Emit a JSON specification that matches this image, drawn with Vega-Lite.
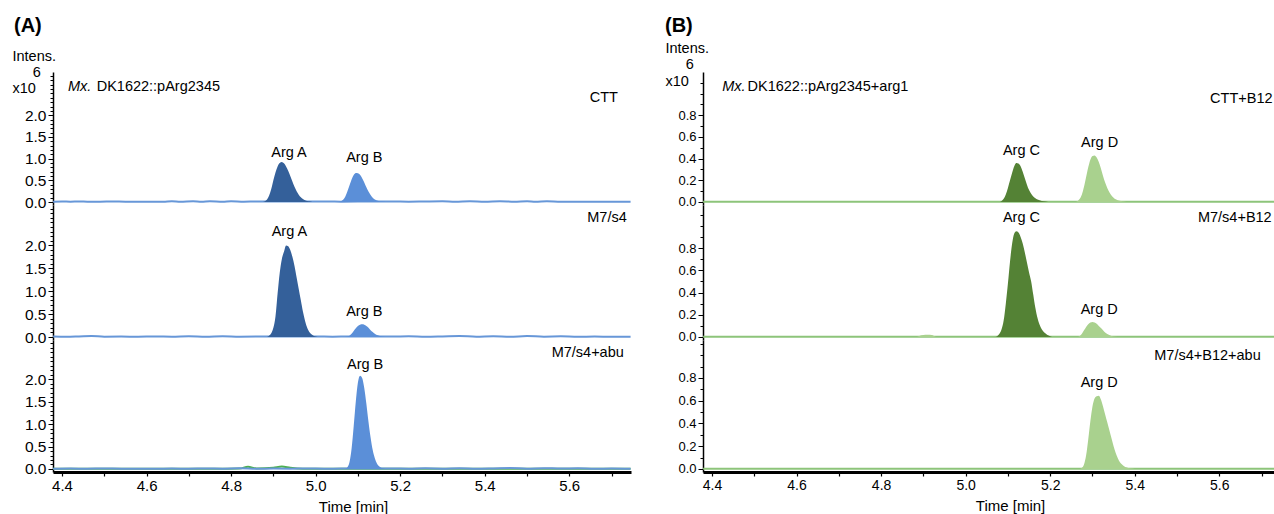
{
"$schema":"https://vega.github.io/schema/vega-lite/v6.json",
"background":"white",
"padding":{"left":12,"top":16,"right":0,"bottom":0},
"config":{"view":{"stroke":null},"font":"Liberation Sans","axis":{"grid":false,"domainColor":"black","tickColor":"black","labelColor":"black","titleColor":"black","labelFont":"Liberation Sans","titleFont":"Liberation Sans","labelOverlap":false,"labelFlush":false,"labelBound":false},"title":{"font":"Liberation Sans","color":"black"},"text":{"font":"Liberation Sans","color":"black"}},
"datasets":{
"A1":[
{"s":"base","x":4.379,"y":0.006},{"s":"base","x":4.4,"y":0.01},{"s":"base","x":4.42,"y":0.008},{"s":"base","x":4.44,"y":0.014},{"s":"base","x":4.46,"y":0.008},{"s":"base","x":4.49,"y":0.006},{"s":"base","x":4.52,"y":0.012},{"s":"base","x":4.55,"y":0.006},{"s":"base","x":4.58,"y":0.008},{"s":"base","x":4.61,"y":0.005},{"s":"base","x":4.64,"y":0.008},{"s":"base","x":4.66,"y":0.02},{"s":"base","x":4.68,"y":0.006},{"s":"base","x":4.71,"y":0.018},{"s":"base","x":4.73,"y":0.007},{"s":"base","x":4.75,"y":0.016},{"s":"base","x":4.78,"y":0.006},{"s":"base","x":4.8,"y":0.02},{"s":"base","x":4.83,"y":0.008},{"s":"base","x":4.86,"y":0.012},{"s":"base","x":4.88,"y":0.01},{"s":"base","x":4.92,"y":0.01},{"s":"base","x":4.96,"y":0.01},{"s":"base","x":5.0,"y":0.01},{"s":"base","x":5.03,"y":0.014},{"s":"base","x":5.06,"y":0.008},{"s":"base","x":5.1,"y":0.01},{"s":"base","x":5.14,"y":0.01},{"s":"base","x":5.18,"y":0.012},{"s":"base","x":5.22,"y":0.006},{"s":"base","x":5.26,"y":0.012},{"s":"base","x":5.3,"y":0.016},{"s":"base","x":5.33,"y":0.006},{"s":"base","x":5.365,"y":0.02},{"s":"base","x":5.4,"y":0.006},{"s":"base","x":5.436,"y":0.02},{"s":"base","x":5.47,"y":0.006},{"s":"base","x":5.5,"y":0.02},{"s":"base","x":5.52,"y":0.006},{"s":"base","x":5.547,"y":0.02},{"s":"base","x":5.58,"y":0.006},{"s":"base","x":5.62,"y":0.008},{"s":"base","x":5.66,"y":0.005},{"s":"base","x":5.7,"y":0.007},{"s":"base","x":5.745,"y":0.005},
{"s":"ArgA","x":4.875,"y":0},{"s":"ArgA","x":4.88,"y":0.02},{"s":"ArgA","x":4.885,"y":0.06},{"s":"ArgA","x":4.89,"y":0.15},{"s":"ArgA","x":4.895,"y":0.3},{"s":"ArgA","x":4.9,"y":0.5},{"s":"ArgA","x":4.905,"y":0.68},{"s":"ArgA","x":4.91,"y":0.82},{"s":"ArgA","x":4.915,"y":0.9},{"s":"ArgA","x":4.92,"y":0.92},{"s":"ArgA","x":4.925,"y":0.89},{"s":"ArgA","x":4.93,"y":0.82},{"s":"ArgA","x":4.935,"y":0.72},{"s":"ArgA","x":4.94,"y":0.6},{"s":"ArgA","x":4.945,"y":0.47},{"s":"ArgA","x":4.95,"y":0.35},{"s":"ArgA","x":4.955,"y":0.25},{"s":"ArgA","x":4.96,"y":0.17},{"s":"ArgA","x":4.965,"y":0.11},{"s":"ArgA","x":4.97,"y":0.07},{"s":"ArgA","x":4.975,"y":0.04},{"s":"ArgA","x":4.98,"y":0.025},{"s":"ArgA","x":4.985,"y":0.015},{"s":"ArgA","x":4.99,"y":0.008},{"s":"ArgA","x":4.995,"y":0},
{"s":"ArgB","x":5.055,"y":0},{"s":"ArgB","x":5.06,"y":0.02},{"s":"ArgB","x":5.065,"y":0.05},{"s":"ArgB","x":5.07,"y":0.12},{"s":"ArgB","x":5.075,"y":0.24},{"s":"ArgB","x":5.08,"y":0.38},{"s":"ArgB","x":5.085,"y":0.52},{"s":"ArgB","x":5.09,"y":0.62},{"s":"ArgB","x":5.095,"y":0.67},{"s":"ArgB","x":5.1,"y":0.665},{"s":"ArgB","x":5.105,"y":0.63},{"s":"ArgB","x":5.11,"y":0.55},{"s":"ArgB","x":5.115,"y":0.45},{"s":"ArgB","x":5.12,"y":0.34},{"s":"ArgB","x":5.125,"y":0.24},{"s":"ArgB","x":5.13,"y":0.16},{"s":"ArgB","x":5.135,"y":0.1},{"s":"ArgB","x":5.14,"y":0.06},{"s":"ArgB","x":5.145,"y":0.035},{"s":"ArgB","x":5.15,"y":0.02},{"s":"ArgB","x":5.155,"y":0.01},{"s":"ArgB","x":5.16,"y":0.005},{"s":"ArgB","x":5.165,"y":0}
],
"A2":[
{"s":"base","x":4.379,"y":0.01},{"s":"base","x":4.41,"y":0.006},{"s":"base","x":4.44,"y":0.012},{"s":"base","x":4.47,"y":0.02},{"s":"base","x":4.5,"y":0.008},{"s":"base","x":4.54,"y":0.01},{"s":"base","x":4.58,"y":0.006},{"s":"base","x":4.62,"y":0.012},{"s":"base","x":4.66,"y":0.006},{"s":"base","x":4.7,"y":0.014},{"s":"base","x":4.74,"y":0.006},{"s":"base","x":4.78,"y":0.016},{"s":"base","x":4.82,"y":0.008},{"s":"base","x":4.86,"y":0.01},{"s":"base","x":4.9,"y":0.01},{"s":"base","x":5.0,"y":0.01},{"s":"base","x":5.04,"y":0.008},{"s":"base","x":5.08,"y":0.01},{"s":"base","x":5.18,"y":0.01},{"s":"base","x":5.22,"y":0.014},{"s":"base","x":5.26,"y":0.006},{"s":"base","x":5.3,"y":0.012},{"s":"base","x":5.34,"y":0.02},{"s":"base","x":5.38,"y":0.008},{"s":"base","x":5.42,"y":0.016},{"s":"base","x":5.46,"y":0.006},{"s":"base","x":5.5,"y":0.02},{"s":"base","x":5.54,"y":0.008},{"s":"base","x":5.58,"y":0.014},{"s":"base","x":5.62,"y":0.006},{"s":"base","x":5.66,"y":0.01},{"s":"base","x":5.7,"y":0.006},{"s":"base","x":5.745,"y":0.008},
{"s":"ArgA","x":4.885,"y":0},{"s":"ArgA","x":4.89,"y":0.03},{"s":"ArgA","x":4.895,"y":0.08},{"s":"ArgA","x":4.9,"y":0.2},{"s":"ArgA","x":4.905,"y":0.45},{"s":"ArgA","x":4.91,"y":0.95},{"s":"ArgA","x":4.915,"y":1.4},{"s":"ArgA","x":4.92,"y":1.7},{"s":"ArgA","x":4.925,"y":1.86},{"s":"ArgA","x":4.93,"y":2.0},{"s":"ArgA","x":4.935,"y":1.98},{"s":"ArgA","x":4.94,"y":1.9},{"s":"ArgA","x":4.945,"y":1.75},{"s":"ArgA","x":4.95,"y":1.55},{"s":"ArgA","x":4.955,"y":1.3},{"s":"ArgA","x":4.96,"y":1.05},{"s":"ArgA","x":4.965,"y":0.8},{"s":"ArgA","x":4.97,"y":0.55},{"s":"ArgA","x":4.975,"y":0.35},{"s":"ArgA","x":4.98,"y":0.2},{"s":"ArgA","x":4.985,"y":0.11},{"s":"ArgA","x":4.99,"y":0.06},{"s":"ArgA","x":4.995,"y":0.03},{"s":"ArgA","x":5.0,"y":0.012},{"s":"ArgA","x":5.005,"y":0},
{"s":"ArgB","x":5.07,"y":0},{"s":"ArgB","x":5.075,"y":0.01},{"s":"ArgB","x":5.08,"y":0.03},{"s":"ArgB","x":5.085,"y":0.07},{"s":"ArgB","x":5.09,"y":0.13},{"s":"ArgB","x":5.095,"y":0.19},{"s":"ArgB","x":5.1,"y":0.24},{"s":"ArgB","x":5.105,"y":0.27},{"s":"ArgB","x":5.11,"y":0.28},{"s":"ArgB","x":5.115,"y":0.27},{"s":"ArgB","x":5.12,"y":0.24},{"s":"ArgB","x":5.125,"y":0.2},{"s":"ArgB","x":5.13,"y":0.15},{"s":"ArgB","x":5.135,"y":0.11},{"s":"ArgB","x":5.14,"y":0.07},{"s":"ArgB","x":5.145,"y":0.045},{"s":"ArgB","x":5.15,"y":0.03},{"s":"ArgB","x":5.155,"y":0.015},{"s":"ArgB","x":5.16,"y":0.008},{"s":"ArgB","x":5.17,"y":0}
],
"A3":[
{"s":"noiseG","x":4.379,"y":0.004},{"s":"noiseG","x":4.45,"y":0.006},{"s":"noiseG","x":4.52,"y":0.004},{"s":"noiseG","x":4.6,"y":0.006},{"s":"noiseG","x":4.7,"y":0.004},{"s":"noiseG","x":4.78,"y":0.006},{"s":"noiseG","x":4.82,"y":0.01},{"s":"noiseG","x":4.84,"y":0.05},{"s":"noiseG","x":4.86,"y":0.012},{"s":"noiseG","x":4.9,"y":0.03},{"s":"noiseG","x":4.92,"y":0.055},{"s":"noiseG","x":4.94,"y":0.03},{"s":"noiseG","x":4.97,"y":0.008},{"s":"noiseG","x":5.0,"y":0.004},{"s":"noiseG","x":5.05,"y":0.006},{"s":"noiseG","x":5.2,"y":0.004},{"s":"noiseG","x":5.4,"y":0.004},{"s":"noiseG","x":5.745,"y":0.004},
{"s":"base","x":4.379,"y":0.005},{"s":"base","x":4.42,"y":0.01},{"s":"base","x":4.46,"y":0.006},{"s":"base","x":4.5,"y":0.012},{"s":"base","x":4.54,"y":0.005},{"s":"base","x":4.58,"y":0.008},{"s":"base","x":4.62,"y":0.006},{"s":"base","x":4.66,"y":0.01},{"s":"base","x":4.7,"y":0.006},{"s":"base","x":4.74,"y":0.012},{"s":"base","x":4.78,"y":0.008},{"s":"base","x":4.82,"y":0.014},{"s":"base","x":4.86,"y":0.006},{"s":"base","x":4.9,"y":0.01},{"s":"base","x":4.94,"y":0.008},{"s":"base","x":4.98,"y":0.012},{"s":"base","x":5.02,"y":0.006},{"s":"base","x":5.06,"y":0.01},{"s":"base","x":5.18,"y":0.012},{"s":"base","x":5.22,"y":0.006},{"s":"base","x":5.26,"y":0.014},{"s":"base","x":5.3,"y":0.008},{"s":"base","x":5.34,"y":0.016},{"s":"base","x":5.38,"y":0.006},{"s":"base","x":5.42,"y":0.012},{"s":"base","x":5.46,"y":0.02},{"s":"base","x":5.5,"y":0.008},{"s":"base","x":5.54,"y":0.018},{"s":"base","x":5.58,"y":0.01},{"s":"base","x":5.62,"y":0.016},{"s":"base","x":5.66,"y":0.006},{"s":"base","x":5.7,"y":0.01},{"s":"base","x":5.745,"y":0.005},
{"s":"ArgB","x":5.07,"y":0},{"s":"ArgB","x":5.075,"y":0.04},{"s":"ArgB","x":5.08,"y":0.15},{"s":"ArgB","x":5.085,"y":0.45},{"s":"ArgB","x":5.09,"y":0.95},{"s":"ArgB","x":5.095,"y":1.5},{"s":"ArgB","x":5.1,"y":1.92},{"s":"ArgB","x":5.105,"y":2.07},{"s":"ArgB","x":5.11,"y":2.02},{"s":"ArgB","x":5.115,"y":1.8},{"s":"ArgB","x":5.12,"y":1.45},{"s":"ArgB","x":5.125,"y":1.05},{"s":"ArgB","x":5.13,"y":0.7},{"s":"ArgB","x":5.135,"y":0.42},{"s":"ArgB","x":5.14,"y":0.24},{"s":"ArgB","x":5.145,"y":0.12},{"s":"ArgB","x":5.15,"y":0.06},{"s":"ArgB","x":5.155,"y":0.03},{"s":"ArgB","x":5.16,"y":0.01},{"s":"ArgB","x":5.165,"y":0}
],
"B1":[
{"s":"baseG","x":4.379,"y":0.003},{"s":"baseG","x":5.745,"y":0.003},
{"s":"ArgC","x":5.08,"y":0},{"s":"ArgC","x":5.085,"y":0.01},{"s":"ArgC","x":5.09,"y":0.03},{"s":"ArgC","x":5.095,"y":0.07},{"s":"ArgC","x":5.1,"y":0.13},{"s":"ArgC","x":5.105,"y":0.2},{"s":"ArgC","x":5.11,"y":0.27},{"s":"ArgC","x":5.115,"y":0.33},{"s":"ArgC","x":5.12,"y":0.36},{"s":"ArgC","x":5.125,"y":0.355},{"s":"ArgC","x":5.13,"y":0.33},{"s":"ArgC","x":5.135,"y":0.28},{"s":"ArgC","x":5.14,"y":0.22},{"s":"ArgC","x":5.145,"y":0.16},{"s":"ArgC","x":5.15,"y":0.11},{"s":"ArgC","x":5.155,"y":0.075},{"s":"ArgC","x":5.16,"y":0.05},{"s":"ArgC","x":5.165,"y":0.035},{"s":"ArgC","x":5.17,"y":0.022},{"s":"ArgC","x":5.18,"y":0.01},{"s":"ArgC","x":5.19,"y":0.004},{"s":"ArgC","x":5.195,"y":0},
{"s":"ArgD","x":5.26,"y":0},{"s":"ArgD","x":5.265,"y":0.01},{"s":"ArgD","x":5.27,"y":0.03},{"s":"ArgD","x":5.275,"y":0.07},{"s":"ArgD","x":5.28,"y":0.14},{"s":"ArgD","x":5.285,"y":0.23},{"s":"ArgD","x":5.29,"y":0.32},{"s":"ArgD","x":5.295,"y":0.39},{"s":"ArgD","x":5.3,"y":0.425},{"s":"ArgD","x":5.305,"y":0.43},{"s":"ArgD","x":5.31,"y":0.41},{"s":"ArgD","x":5.315,"y":0.37},{"s":"ArgD","x":5.32,"y":0.31},{"s":"ArgD","x":5.325,"y":0.24},{"s":"ArgD","x":5.33,"y":0.18},{"s":"ArgD","x":5.335,"y":0.13},{"s":"ArgD","x":5.34,"y":0.09},{"s":"ArgD","x":5.345,"y":0.06},{"s":"ArgD","x":5.35,"y":0.04},{"s":"ArgD","x":5.355,"y":0.025},{"s":"ArgD","x":5.36,"y":0.015},{"s":"ArgD","x":5.37,"y":0.006},{"s":"ArgD","x":5.38,"y":0}
],
"B2":[
{"s":"baseG","x":4.379,"y":0.003},{"s":"baseG","x":5.745,"y":0.003},
{"s":"bump","x":4.885,"y":0},{"s":"bump","x":4.89,"y":0.01},{"s":"bump","x":4.9,"y":0.018},{"s":"bump","x":4.91,"y":0.02},{"s":"bump","x":4.92,"y":0.018},{"s":"bump","x":4.925,"y":0.01},{"s":"bump","x":4.93,"y":0},
{"s":"ArgC","x":5.07,"y":0},{"s":"ArgC","x":5.075,"y":0.01},{"s":"ArgC","x":5.08,"y":0.03},{"s":"ArgC","x":5.085,"y":0.07},{"s":"ArgC","x":5.09,"y":0.15},{"s":"ArgC","x":5.095,"y":0.3},{"s":"ArgC","x":5.1,"y":0.48},{"s":"ArgC","x":5.105,"y":0.68},{"s":"ArgC","x":5.11,"y":0.84},{"s":"ArgC","x":5.115,"y":0.93},{"s":"ArgC","x":5.12,"y":0.95},{"s":"ArgC","x":5.125,"y":0.94},{"s":"ArgC","x":5.13,"y":0.9},{"s":"ArgC","x":5.135,"y":0.84},{"s":"ArgC","x":5.14,"y":0.76},{"s":"ArgC","x":5.145,"y":0.67},{"s":"ArgC","x":5.15,"y":0.58},{"s":"ArgC","x":5.155,"y":0.5},{"s":"ArgC","x":5.16,"y":0.38},{"s":"ArgC","x":5.165,"y":0.26},{"s":"ArgC","x":5.17,"y":0.17},{"s":"ArgC","x":5.175,"y":0.11},{"s":"ArgC","x":5.18,"y":0.07},{"s":"ArgC","x":5.185,"y":0.045},{"s":"ArgC","x":5.19,"y":0.03},{"s":"ArgC","x":5.195,"y":0.015},{"s":"ArgC","x":5.2,"y":0.007},{"s":"ArgC","x":5.205,"y":0},
{"s":"ArgD","x":5.265,"y":0},{"s":"ArgD","x":5.27,"y":0.01},{"s":"ArgD","x":5.275,"y":0.03},{"s":"ArgD","x":5.28,"y":0.06},{"s":"ArgD","x":5.285,"y":0.09},{"s":"ArgD","x":5.29,"y":0.115},{"s":"ArgD","x":5.295,"y":0.13},{"s":"ArgD","x":5.3,"y":0.135},{"s":"ArgD","x":5.305,"y":0.13},{"s":"ArgD","x":5.31,"y":0.12},{"s":"ArgD","x":5.315,"y":0.1},{"s":"ArgD","x":5.32,"y":0.08},{"s":"ArgD","x":5.325,"y":0.06},{"s":"ArgD","x":5.33,"y":0.04},{"s":"ArgD","x":5.335,"y":0.027},{"s":"ArgD","x":5.34,"y":0.017},{"s":"ArgD","x":5.345,"y":0.01},{"s":"ArgD","x":5.35,"y":0.005},{"s":"ArgD","x":5.36,"y":0}
],
"B3":[
{"s":"baseG","x":4.379,"y":0.003},{"s":"baseG","x":5.745,"y":0.003},
{"s":"ArgD","x":5.27,"y":0},{"s":"ArgD","x":5.275,"y":0.01},{"s":"ArgD","x":5.28,"y":0.04},{"s":"ArgD","x":5.285,"y":0.12},{"s":"ArgD","x":5.29,"y":0.26},{"s":"ArgD","x":5.295,"y":0.42},{"s":"ArgD","x":5.3,"y":0.55},{"s":"ArgD","x":5.305,"y":0.62},{"s":"ArgD","x":5.31,"y":0.64},{"s":"ArgD","x":5.315,"y":0.645},{"s":"ArgD","x":5.32,"y":0.61},{"s":"ArgD","x":5.325,"y":0.55},{"s":"ArgD","x":5.33,"y":0.48},{"s":"ArgD","x":5.335,"y":0.41},{"s":"ArgD","x":5.34,"y":0.34},{"s":"ArgD","x":5.345,"y":0.27},{"s":"ArgD","x":5.35,"y":0.2},{"s":"ArgD","x":5.355,"y":0.14},{"s":"ArgD","x":5.36,"y":0.095},{"s":"ArgD","x":5.365,"y":0.06},{"s":"ArgD","x":5.37,"y":0.04},{"s":"ArgD","x":5.375,"y":0.025},{"s":"ArgD","x":5.38,"y":0.015},{"s":"ArgD","x":5.39,"y":0.006},{"s":"ArgD","x":5.4,"y":0}
],
"L":[
{"p":"A1","k":"i","x":4.414,"y":2.65,"t":"Mx."},
{"p":"A1","k":"l","x":4.482,"y":2.65,"t":"DK1622::pArg2345"},
{"p":"A1","k":"r","x":5.715,"y":2.4,"t":"CTT"},
{"p":"A1","k":"c","x":4.937,"y":1.13,"t":"Arg A"},
{"p":"A1","k":"c","x":5.115,"y":1.01,"t":"Arg B"},
{"p":"A2","k":"r","x":5.736,"y":2.6,"t":"M7/s4"},
{"p":"A2","k":"c","x":4.938,"y":2.29,"t":"Arg A"},
{"p":"A2","k":"c","x":5.115,"y":0.55,"t":"Arg B"},
{"p":"A3","k":"r","x":5.729,"y":2.58,"t":"M7/s4+abu"},
{"p":"A3","k":"c","x":5.117,"y":2.31,"t":"Arg B"},
{"p":"B1","k":"i","x":4.424,"y":1.06,"t":"Mx."},
{"p":"B1","k":"l","x":4.484,"y":1.06,"t":"DK1622::pArg2345+arg1"},
{"p":"B1","k":"r","x":5.726,"y":0.95,"t":"CTT+B12"},
{"p":"B1","k":"c","x":5.132,"y":0.475,"t":"Arg C"},
{"p":"B1","k":"c","x":5.317,"y":0.545,"t":"Arg D"},
{"p":"B2","k":"r","x":5.724,"y":1.07,"t":"M7/s4+B12"},
{"p":"B2","k":"c","x":5.132,"y":1.07,"t":"Arg C"},
{"p":"B2","k":"c","x":5.316,"y":0.24,"t":"Arg D"},
{"p":"B3","k":"r","x":5.698,"y":0.99,"t":"M7/s4+B12+abu"},
{"p":"B3","k":"c","x":5.316,"y":0.76,"t":"Arg D"}
]
},
"spacing":30,
"hconcat":[
{
"title":{"text":"(A)","anchor":"start","fontSize":20,"fontWeight":"bold","offset":12,"dx":2},
"spacing":0,
"bounds":"flush",
"vconcat":[
{"width":578,"height":133,
"encoding":{
"x":{"field":"x","type":"quantitative","scale":{"domain":[4.3787,5.746],"nice":false,"zero":false},"axis":null},
"y":{"field":"y","type":"quantitative","scale":{"domain":[-0.069,2.995],"nice":false,"zero":false},"axis":{"values":[0,0.1,0.2,0.3,0.4,0.5,0.6,0.7,0.8,0.9,1,1.1,1.2,1.3,1.4,1.5,1.6,1.7,1.8,1.9,2,2.1,2.2,2.3,2.4,2.5,2.6,2.7,2.8,2.9],"labelExpr":"datum.value <= 2.01 && abs(datum.value*2-round(datum.value*2))<0.01 ? format(datum.value,'.1f') : ''","tickSize":{"condition":{"test":"datum.value <= 2.01 && abs(datum.value*2-round(datum.value*2))<0.01","value":5},"value":3},"labelFontSize":15.5,"labelPadding":2,"domainWidth":1.5,"tickWidth":1,"title":["Intens.","\u200b\u00a0\u00a0\u00a0\u00a0\u00a06","x10"],"titleAngle":0,"titleAlign":"left","titleBaseline":"top","titleX":-41,"titleY":-23,"titleFontSize":14.5,"titleFontWeight":"normal","titleLineHeight":16}}
},
"layer":[
{"data":{"name":"A1"},"transform":[{"filter":"datum.s=='base'||datum.s=='baseG'||datum.s=='noiseG'"}],"mark":{"type":"line","strokeWidth":2,"interpolate":"monotone"},"encoding":{"color":{"field":"s","type":"nominal","scale":{"domain":["base","ArgA","ArgB","noiseG","baseG","ArgC","ArgD","bump"],"range":["#6797d8","#34609a","#5b8fd8","#4caf50","#8dc47a","#548235","#a9d18e","#a9d18e"]},"legend":null}}},
{"data":{"name":"A1"},"transform":[{"filter":"!(datum.s=='base'||datum.s=='baseG'||datum.s=='noiseG')"}],"mark":{"type":"area","interpolate":"monotone"},"encoding":{"y2":{"datum":0},"color":{"field":"s","type":"nominal","scale":{"domain":["base","ArgA","ArgB","noiseG","baseG","ArgC","ArgD","bump"],"range":["#6797d8","#34609a","#5b8fd8","#4caf50","#8dc47a","#548235","#a9d18e","#a9d18e"]},"legend":null}}},
{"data":{"name":"L"},"transform":[{"filter":"datum.p=='A1' && datum.k=='c'"}],"mark":{"type":"text","align":"center","baseline":"middle","fontSize":14.5},"encoding":{"text":{"field":"t"}}},
{"data":{"name":"L"},"transform":[{"filter":"datum.p=='A1' && datum.k=='r'"}],"mark":{"type":"text","align":"right","baseline":"middle","fontSize":14.5},"encoding":{"text":{"field":"t"}}},
{"data":{"name":"L"},"transform":[{"filter":"datum.p=='A1' && datum.k=='l'"}],"mark":{"type":"text","align":"left","baseline":"middle","fontSize":14.5},"encoding":{"text":{"field":"t"}}},
{"data":{"name":"L"},"transform":[{"filter":"datum.p=='A1' && datum.k=='i'"}],"mark":{"type":"text","align":"left","baseline":"middle","fontSize":14.5,"fontStyle":"italic"},"encoding":{"text":{"field":"t"}}}
]},
{"width":578,"height":135,
"encoding":{
"x":{"field":"x","type":"quantitative","scale":{"domain":[4.3787,5.746],"nice":false,"zero":false},"axis":null},
"y":{"field":"y","type":"quantitative","scale":{"domain":[-0.0655,2.882],"nice":false,"zero":false},"axis":{"values":[0,0.1,0.2,0.3,0.4,0.5,0.6,0.7,0.8,0.9,1,1.1,1.2,1.3,1.4,1.5,1.6,1.7,1.8,1.9,2,2.1,2.2,2.3,2.4,2.5,2.6,2.7,2.8],"labelExpr":"datum.value <= 2.01 && abs(datum.value*2-round(datum.value*2))<0.01 ? format(datum.value,'.1f') : ''","tickSize":{"condition":{"test":"datum.value <= 2.01 && abs(datum.value*2-round(datum.value*2))<0.01","value":5},"value":3},"labelFontSize":15.5,"labelPadding":2,"domainWidth":1.5,"tickWidth":1,"title":null}}
},
"layer":[
{"data":{"name":"A2"},"transform":[{"filter":"datum.s=='base'||datum.s=='baseG'||datum.s=='noiseG'"}],"mark":{"type":"line","strokeWidth":2,"interpolate":"monotone"},"encoding":{"color":{"field":"s","type":"nominal","scale":{"domain":["base","ArgA","ArgB","noiseG","baseG","ArgC","ArgD","bump"],"range":["#6797d8","#34609a","#5b8fd8","#4caf50","#8dc47a","#548235","#a9d18e","#a9d18e"]},"legend":null}}},
{"data":{"name":"A2"},"transform":[{"filter":"!(datum.s=='base'||datum.s=='baseG'||datum.s=='noiseG')"}],"mark":{"type":"area","interpolate":"monotone"},"encoding":{"y2":{"datum":0},"color":{"field":"s","type":"nominal","scale":{"domain":["base","ArgA","ArgB","noiseG","baseG","ArgC","ArgD","bump"],"range":["#6797d8","#34609a","#5b8fd8","#4caf50","#8dc47a","#548235","#a9d18e","#a9d18e"]},"legend":null}}},
{"data":{"name":"L"},"transform":[{"filter":"datum.p=='A2' && datum.k=='c'"}],"mark":{"type":"text","align":"center","baseline":"middle","fontSize":14.5},"encoding":{"text":{"field":"t"}}},
{"data":{"name":"L"},"transform":[{"filter":"datum.p=='A2' && datum.k=='r'"}],"mark":{"type":"text","align":"right","baseline":"middle","fontSize":14.5},"encoding":{"text":{"field":"t"}}}
]},
{"width":578,"height":132,
"encoding":{
"x":{"field":"x","type":"quantitative","scale":{"domain":[4.3787,5.746],"nice":false,"zero":false},"axis":{"values":[4.4,4.5,4.6,4.7,4.8,4.9,5,5.1,5.2,5.3,5.4,5.5,5.6,5.7],"labelExpr":"round(datum.value*10)%2==0 ? format(datum.value,'.1f') : ''","tickSize":4,"tickWidth":1.2,"domainWidth":3,"labelFontSize":15,"labelPadding":2,"title":"Time [min]","titleFontSize":15,"titleFontWeight":"normal","titleX":300,"titleAlign":"center","titlePadding":6}},
"y":{"field":"y","type":"quantitative","scale":{"domain":[-0.0667,2.867],"nice":false,"zero":false},"axis":{"values":[0,0.1,0.2,0.3,0.4,0.5,0.6,0.7,0.8,0.9,1,1.1,1.2,1.3,1.4,1.5,1.6,1.7,1.8,1.9,2,2.1,2.2,2.3,2.4,2.5,2.6,2.7,2.8],"labelExpr":"datum.value <= 2.01 && abs(datum.value*2-round(datum.value*2))<0.01 ? format(datum.value,'.1f') : ''","tickSize":{"condition":{"test":"datum.value <= 2.01 && abs(datum.value*2-round(datum.value*2))<0.01","value":5},"value":3},"labelFontSize":15.5,"labelPadding":2,"domainWidth":1.5,"tickWidth":1,"title":null}}
},
"layer":[
{"data":{"name":"A3"},"transform":[{"filter":"datum.s=='base'||datum.s=='baseG'||datum.s=='noiseG'"}],"mark":{"type":"line","strokeWidth":2,"interpolate":"monotone"},"encoding":{"color":{"field":"s","type":"nominal","scale":{"domain":["base","ArgA","ArgB","noiseG","baseG","ArgC","ArgD","bump"],"range":["#6797d8","#34609a","#5b8fd8","#4caf50","#8dc47a","#548235","#a9d18e","#a9d18e"]},"legend":null}}},
{"data":{"name":"A3"},"transform":[{"filter":"!(datum.s=='base'||datum.s=='baseG'||datum.s=='noiseG')"}],"mark":{"type":"area","interpolate":"monotone"},"encoding":{"y2":{"datum":0},"color":{"field":"s","type":"nominal","scale":{"domain":["base","ArgA","ArgB","noiseG","baseG","ArgC","ArgD","bump"],"range":["#6797d8","#34609a","#5b8fd8","#4caf50","#8dc47a","#548235","#a9d18e","#a9d18e"]},"legend":null}}},
{"data":{"name":"L"},"transform":[{"filter":"datum.p=='A3' && datum.k=='c'"}],"mark":{"type":"text","align":"center","baseline":"middle","fontSize":14.5},"encoding":{"text":{"field":"t"}}},
{"data":{"name":"L"},"transform":[{"filter":"datum.p=='A3' && datum.k=='r'"}],"mark":{"type":"text","align":"right","baseline":"middle","fontSize":14.5},"encoding":{"text":{"field":"t"}}}
]}
]
},
{
"title":{"text":"(B)","anchor":"start","fontSize":20,"fontWeight":"bold","offset":4,"dx":0},
"spacing":0,
"bounds":"flush",
"vconcat":[
{"width":578,"height":133,
"encoding":{
"x":{"field":"x","type":"quantitative","scale":{"domain":[4.3787,5.746],"nice":false,"zero":false},"axis":null},
"y":{"field":"y","type":"quantitative","scale":{"domain":[-0.0277,1.2],"nice":false,"zero":false},"axis":{"values":[0,0.1,0.2,0.3,0.4,0.5,0.6,0.7,0.8,0.9,1,1.1],"labelExpr":"datum.value <= 0.81 && abs(datum.value*5-round(datum.value*5))<0.01 ? format(datum.value,'.1f') : ''","tickSize":{"condition":{"test":"datum.value <= 0.81 && abs(datum.value*5-round(datum.value*5))<0.01","value":5},"value":3},"labelFontSize":13,"labelPadding":2,"domainWidth":1.5,"tickWidth":1,"title":["Intens.","\u200b\u00a0\u00a0\u00a0\u00a0\u00a06","x10"],"titleAngle":0,"titleAlign":"left","titleBaseline":"top","titleX":-38,"titleY":-31,"titleFontSize":14.5,"titleFontWeight":"normal","titleLineHeight":16.5}}
},
"layer":[
{"data":{"name":"B1"},"transform":[{"filter":"datum.s=='base'||datum.s=='baseG'||datum.s=='noiseG'"}],"mark":{"type":"line","strokeWidth":2,"interpolate":"monotone"},"encoding":{"color":{"field":"s","type":"nominal","scale":{"domain":["base","ArgA","ArgB","noiseG","baseG","ArgC","ArgD","bump"],"range":["#6797d8","#34609a","#5b8fd8","#4caf50","#8dc47a","#548235","#a9d18e","#a9d18e"]},"legend":null}}},
{"data":{"name":"B1"},"transform":[{"filter":"!(datum.s=='base'||datum.s=='baseG'||datum.s=='noiseG')"}],"mark":{"type":"area","interpolate":"monotone"},"encoding":{"y2":{"datum":0},"color":{"field":"s","type":"nominal","scale":{"domain":["base","ArgA","ArgB","noiseG","baseG","ArgC","ArgD","bump"],"range":["#6797d8","#34609a","#5b8fd8","#4caf50","#8dc47a","#548235","#a9d18e","#a9d18e"]},"legend":null}}},
{"data":{"name":"L"},"transform":[{"filter":"datum.p=='B1' && datum.k=='c'"}],"mark":{"type":"text","align":"center","baseline":"middle","fontSize":14.5},"encoding":{"text":{"field":"t"}}},
{"data":{"name":"L"},"transform":[{"filter":"datum.p=='B1' && datum.k=='r'"}],"mark":{"type":"text","align":"right","baseline":"middle","fontSize":14.5},"encoding":{"text":{"field":"t"}}},
{"data":{"name":"L"},"transform":[{"filter":"datum.p=='B1' && datum.k=='l'"}],"mark":{"type":"text","align":"left","baseline":"middle","fontSize":14.5},"encoding":{"text":{"field":"t"}}},
{"data":{"name":"L"},"transform":[{"filter":"datum.p=='B1' && datum.k=='i'"}],"mark":{"type":"text","align":"left","baseline":"middle","fontSize":14.5,"fontStyle":"italic"},"encoding":{"text":{"field":"t"}}}
]},
{"width":578,"height":135,
"encoding":{
"x":{"field":"x","type":"quantitative","scale":{"domain":[4.3787,5.746],"nice":false,"zero":false},"axis":null},
"y":{"field":"y","type":"quantitative","scale":{"domain":[-0.027,1.187],"nice":false,"zero":false},"axis":{"values":[0,0.1,0.2,0.3,0.4,0.5,0.6,0.7,0.8,0.9,1,1.1],"labelExpr":"datum.value <= 0.81 && abs(datum.value*5-round(datum.value*5))<0.01 ? format(datum.value,'.1f') : ''","tickSize":{"condition":{"test":"datum.value <= 0.81 && abs(datum.value*5-round(datum.value*5))<0.01","value":5},"value":3},"labelFontSize":13,"labelPadding":2,"domainWidth":1.5,"tickWidth":1,"title":null}}
},
"layer":[
{"data":{"name":"B2"},"transform":[{"filter":"datum.s=='base'||datum.s=='baseG'||datum.s=='noiseG'"}],"mark":{"type":"line","strokeWidth":2,"interpolate":"monotone"},"encoding":{"color":{"field":"s","type":"nominal","scale":{"domain":["base","ArgA","ArgB","noiseG","baseG","ArgC","ArgD","bump"],"range":["#6797d8","#34609a","#5b8fd8","#4caf50","#8dc47a","#548235","#a9d18e","#a9d18e"]},"legend":null}}},
{"data":{"name":"B2"},"transform":[{"filter":"!(datum.s=='base'||datum.s=='baseG'||datum.s=='noiseG')"}],"mark":{"type":"area","interpolate":"monotone"},"encoding":{"y2":{"datum":0},"color":{"field":"s","type":"nominal","scale":{"domain":["base","ArgA","ArgB","noiseG","baseG","ArgC","ArgD","bump"],"range":["#6797d8","#34609a","#5b8fd8","#4caf50","#8dc47a","#548235","#a9d18e","#a9d18e"]},"legend":null}}},
{"data":{"name":"L"},"transform":[{"filter":"datum.p=='B2' && datum.k=='c'"}],"mark":{"type":"text","align":"center","baseline":"middle","fontSize":14.5},"encoding":{"text":{"field":"t"}}},
{"data":{"name":"L"},"transform":[{"filter":"datum.p=='B2' && datum.k=='r'"}],"mark":{"type":"text","align":"right","baseline":"middle","fontSize":14.5},"encoding":{"text":{"field":"t"}}}
]},
{"width":578,"height":132,
"encoding":{
"x":{"field":"x","type":"quantitative","scale":{"domain":[4.3787,5.746],"nice":false,"zero":false},"axis":{"values":[4.4,4.5,4.6,4.7,4.8,4.9,5,5.1,5.2,5.3,5.4,5.5,5.6,5.7],"labelExpr":"round(datum.value*10)%2==0 ? format(datum.value,'.1f') : ''","tickSize":4,"tickWidth":1.2,"domainWidth":3,"labelFontSize":14,"labelPadding":2,"title":"Time [min]","titleFontSize":15,"titleFontWeight":"normal","titleX":307,"titleAlign":"center","titlePadding":6}},
"y":{"field":"y","type":"quantitative","scale":{"domain":[-0.0264,1.134],"nice":false,"zero":false},"axis":{"values":[0,0.1,0.2,0.3,0.4,0.5,0.6,0.7,0.8,0.9,1,1.1],"labelExpr":"datum.value <= 0.81 && abs(datum.value*5-round(datum.value*5))<0.01 ? format(datum.value,'.1f') : ''","tickSize":{"condition":{"test":"datum.value <= 0.81 && abs(datum.value*5-round(datum.value*5))<0.01","value":5},"value":3},"labelFontSize":13,"labelPadding":2,"domainWidth":1.5,"tickWidth":1,"title":null}}
},
"layer":[
{"data":{"name":"B3"},"transform":[{"filter":"datum.s=='base'||datum.s=='baseG'||datum.s=='noiseG'"}],"mark":{"type":"line","strokeWidth":2,"interpolate":"monotone"},"encoding":{"color":{"field":"s","type":"nominal","scale":{"domain":["base","ArgA","ArgB","noiseG","baseG","ArgC","ArgD","bump"],"range":["#6797d8","#34609a","#5b8fd8","#4caf50","#8dc47a","#548235","#a9d18e","#a9d18e"]},"legend":null}}},
{"data":{"name":"B3"},"transform":[{"filter":"!(datum.s=='base'||datum.s=='baseG'||datum.s=='noiseG')"}],"mark":{"type":"area","interpolate":"monotone"},"encoding":{"y2":{"datum":0},"color":{"field":"s","type":"nominal","scale":{"domain":["base","ArgA","ArgB","noiseG","baseG","ArgC","ArgD","bump"],"range":["#6797d8","#34609a","#5b8fd8","#4caf50","#8dc47a","#548235","#a9d18e","#a9d18e"]},"legend":null}}},
{"data":{"name":"L"},"transform":[{"filter":"datum.p=='B3' && datum.k=='c'"}],"mark":{"type":"text","align":"center","baseline":"middle","fontSize":14.5},"encoding":{"text":{"field":"t"}}},
{"data":{"name":"L"},"transform":[{"filter":"datum.p=='B3' && datum.k=='r'"}],"mark":{"type":"text","align":"right","baseline":"middle","fontSize":14.5},"encoding":{"text":{"field":"t"}}}
]}
]
}
]
}
